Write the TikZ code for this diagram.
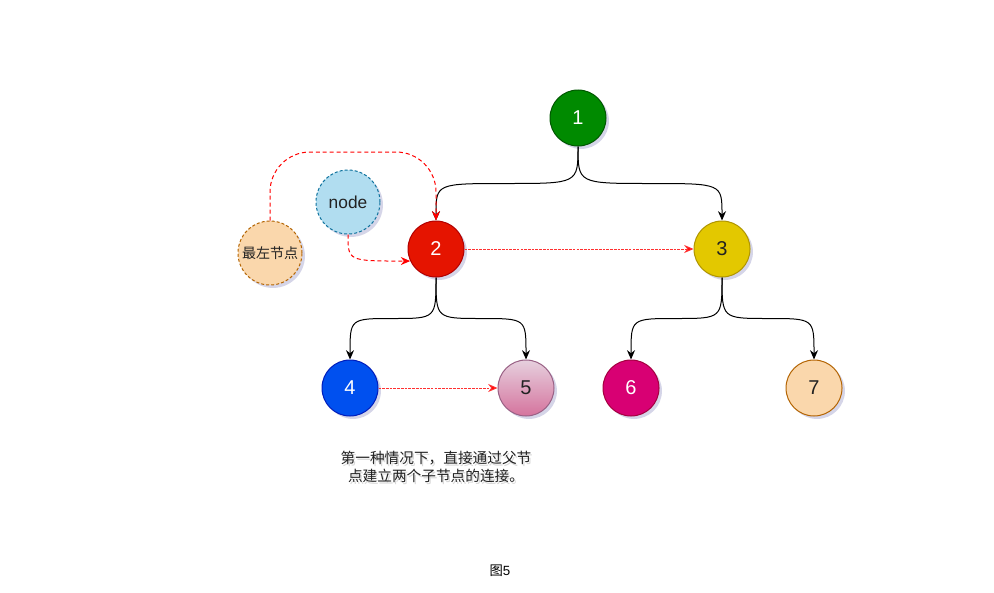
\documentclass[tikz,border=0pt]{standalone}
\usepackage{fontspec}
\setmainfont{Liberation Sans}
\newfontfamily\cjk{Noto Sans CJK SC}
\usetikzlibrary{shadows,arrows.meta,calc}
\definecolor{cGreen}{HTML}{008A00}\definecolor{sGreen}{HTML}{005700}
\definecolor{cRed}{HTML}{E51400}\definecolor{sRed}{HTML}{B20000}
\definecolor{cYel}{HTML}{E3C800}\definecolor{sYel}{HTML}{B09500}
\definecolor{cBlue}{HTML}{0050EF}\definecolor{sBlue}{HTML}{001DBC}
\definecolor{cPinkT}{HTML}{E6D0DE}\definecolor{cPinkB}{HTML}{D5739D}\definecolor{sPink}{HTML}{996185}
\definecolor{cMag}{HTML}{D80073}\definecolor{sMag}{HTML}{A50040}
\definecolor{cOr}{HTML}{FAD7AC}\definecolor{sOr}{HTML}{B46504}
\definecolor{cSky}{HTML}{B1DDF0}\definecolor{sSky}{HTML}{10739E}
\definecolor{txt}{HTML}{222222}
\definecolor{lred}{HTML}{FF3030}
\tikzset{
  tnode/.style={circle,minimum size=42pt,inner sep=0pt,line width=0.75pt,
    font=\fontsize{15}{15}\selectfont,
    drop shadow={shadow xshift=2.2pt,shadow yshift=-2.2pt,opacity=0.25,fill=gray!70!blue}},
  bignode/.style={tnode,minimum size=48pt,dashed,dash pattern=on 2.2pt off 1.6pt},
  edge/.style={draw=black,line width=0.75pt,-{Stealth[length=7pt,width=6pt]}},
  redlink/.style={draw=lred,line width=0.75pt,dash pattern=on 2pt off 0.8pt,-{Stealth[length=7pt,width=6pt,fill=red]}},
  reddash/.style={draw=red,line width=0.75pt,dash pattern=on 3pt off 2.2pt,-{Stealth[length=7pt,width=6pt]}},
}
\begin{document}
\begin{tikzpicture}[x=0.75pt,y=-0.75pt]
\useasboundingbox[fill=white] (0,0) rectangle (994,592);
\node[tnode,fill=cGreen,draw=sGreen,text=white] (n1) at (578,118) {1};
\node[tnode,fill=cRed,draw=sRed,text=white] (n2) at (436,249) {2};
\node[tnode,fill=cYel,draw=sYel,text=txt] (n3) at (722,249) {3};
\node[tnode,fill=cBlue,draw=sBlue,text=white] (n4) at (350,388) {4};
\node[tnode,top color=cPinkT,bottom color=cPinkB,draw=sPink,text=txt] (n5) at (526,388) {5};
\node[tnode,fill=cMag,draw=sMag,text=white] (n6) at (631,388) {6};
\node[tnode,fill=cOr,draw=sOr,text=txt] (n7) at (814,388) {7};
\node[bignode,fill=cSky,draw=sSky,text=txt,font=\fontsize{13}{13}\selectfont] (nd) at (348,202) {node};
\node[bignode,fill=cOr,draw=sOr,text=txt,font=\cjk\fontsize{10.5}{10.5}\selectfont] (lm) at (270,253) {最左节点};
% midpoints
\coordinate (m12) at ($(n1.south)!0.5!(n2.north)$);
\coordinate (m13) at ($(n1.south)!0.5!(n3.north)$);
\coordinate (m24) at ($(n2.south)!0.5!(n4.north)$);
\coordinate (m25) at ($(n2.south)!0.5!(n5.north)$);
\coordinate (m36) at ($(n3.south)!0.5!(n6.north)$);
\coordinate (m37) at ($(n3.south)!0.5!(n7.north)$);
\foreach \a/\b/\m in {n1/n2/m12,n1/n3/m13,n2/n4/m24,n2/n5/m25,n3/n6/m36,n3/n7/m37}{
  \draw[edge] (\a.south) .. controls (\a.south |- \m) .. (\m) .. controls (\b.north |- \m) .. (\b.north);
}
\draw[redlink] (n2) -- (n3);
\draw[redlink] (n4) -- (n5);
\coordinate (ltop) at (350,152);
\draw[reddash,rounded corners=30pt] (lm.north) -- (lm.north |- ltop) -- (n2.north |- ltop) -- (n2.north);
\draw[reddash] (nd.south) .. controls (nd.south |- n2.205) .. (n2.205);
\node[font=\cjk\fontsize{11}{13}\selectfont,text=black!30,opacity=0.5,align=center] (capsh) at (437.5,469) {第一种情况下，直接通过父节\\点建立两个子节点的连接。};
\node[font=\cjk\fontsize{11}{13}\selectfont,text=txt,align=center] (cap) at (436,467) {第一种情况下，直接通过父节\\点建立两个子节点的连接。};
\node[font=\fontsize{10}{10}\selectfont] (fig) at (500,571) {{\cjk 图}5};
\end{tikzpicture}
\end{document}
